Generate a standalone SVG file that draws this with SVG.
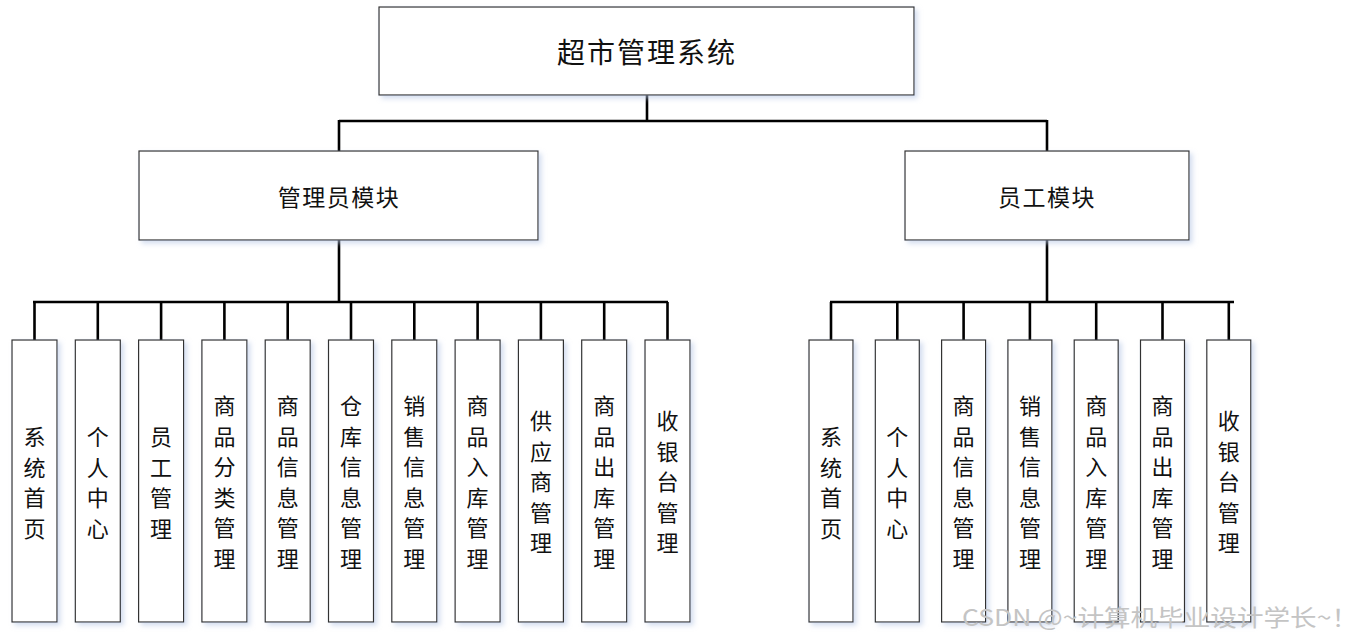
<svg xmlns="http://www.w3.org/2000/svg" width="1367" height="641" viewBox="0 0 1367 641">
<defs>
<filter id="sh" x="-20%" y="-5%" width="140%" height="115%">
<feDropShadow dx="3" dy="3" stdDeviation="2.5" flood-color="#b8c8e6" flood-opacity="0.6"/>
</filter>
</defs>
<style>
.box{fill:#fff;stroke:#333;stroke-width:1.2;filter:url(#sh)}
.conn{fill:none;stroke:#000;stroke-width:2.6}
.t{font-family:"Noto Sans CJK SC","Noto Sans",sans-serif;fill:#111;text-anchor:middle;dominant-baseline:central}
.title{font-size:28px}
.mod{font-size:23px}
.leaf{font-size:22px}
.wm{font-family:"Noto Sans CJK SC","Liberation Sans",sans-serif;font-size:23px;fill:#c4c4c4}
</style>
<rect width="1367" height="641" fill="#fff"/>
<g id="connectors" class="conn">
<path d="M647,95V121M339,121H1047M339,120V151M1047,120V151"/>
<path d="M339,240V302M33,302H668"/>
<path d="M34.5,302V340M97.8,302V340M161.1,302V340M224.4,302V340M287.7,302V340M351,302V340M414.3,302V340M477.6,302V340M540.9,302V340M604.2,302V340M667.5,302V340"/>
<path d="M1047,240V302M830,302H1234"/>
<path d="M831,302V340M897.3,302V340M963.6,302V340M1029.9,302V340M1096.2,302V340M1162.5,302V340M1228.8,302V340"/>
</g>
<g id="root"><rect class="box" x="379" y="7" width="535" height="88"/><text class="t title" x="647" y="51" letter-spacing="2">超市管理系统</text></g>
<g id="admin"><rect class="box" x="139" y="151" width="399" height="89"/><text class="t mod" x="339" y="196" letter-spacing="1.5">管理员模块</text></g>
<g id="staff"><rect class="box" x="905" y="151" width="284" height="89"/><text class="t mod" x="1047" y="196" letter-spacing="1.5">员工模块</text></g>

<g id="a1"><rect class="box" x="12" y="340" width="45" height="282"/><text class="t leaf"><tspan x="34.5" y="435">系</tspan><tspan x="34.5" y="465.5">统</tspan><tspan x="34.5" y="496">首</tspan><tspan x="34.5" y="526.5">页</tspan></text></g>
<g id="a2"><rect class="box" x="75.3" y="340" width="45" height="282"/><text class="t leaf"><tspan x="97.8" y="435">个</tspan><tspan x="97.8" y="465.5">人</tspan><tspan x="97.8" y="496">中</tspan><tspan x="97.8" y="526.5">心</tspan></text></g>
<g id="a3"><rect class="box" x="138.6" y="340" width="45" height="282"/><text class="t leaf"><tspan x="161.1" y="435">员</tspan><tspan x="161.1" y="465.5">工</tspan><tspan x="161.1" y="496">管</tspan><tspan x="161.1" y="526.5">理</tspan></text></g>
<g id="a4"><rect class="box" x="201.9" y="340" width="45" height="282"/><text class="t leaf"><tspan x="224.4" y="404">商</tspan><tspan x="224.4" y="434.5">品</tspan><tspan x="224.4" y="465">分</tspan><tspan x="224.4" y="495.5">类</tspan><tspan x="224.4" y="526">管</tspan><tspan x="224.4" y="556.5">理</tspan></text></g>
<g id="a5"><rect class="box" x="265.2" y="340" width="45" height="282"/><text class="t leaf"><tspan x="287.7" y="404">商</tspan><tspan x="287.7" y="434.5">品</tspan><tspan x="287.7" y="465">信</tspan><tspan x="287.7" y="495.5">息</tspan><tspan x="287.7" y="526">管</tspan><tspan x="287.7" y="556.5">理</tspan></text></g>
<g id="a6"><rect class="box" x="328.5" y="340" width="45" height="282"/><text class="t leaf"><tspan x="351" y="404">仓</tspan><tspan x="351" y="434.5">库</tspan><tspan x="351" y="465">信</tspan><tspan x="351" y="495.5">息</tspan><tspan x="351" y="526">管</tspan><tspan x="351" y="556.5">理</tspan></text></g>
<g id="a7"><rect class="box" x="391.8" y="340" width="45" height="282"/><text class="t leaf"><tspan x="414.3" y="404">销</tspan><tspan x="414.3" y="434.5">售</tspan><tspan x="414.3" y="465">信</tspan><tspan x="414.3" y="495.5">息</tspan><tspan x="414.3" y="526">管</tspan><tspan x="414.3" y="556.5">理</tspan></text></g>
<g id="a8"><rect class="box" x="455.1" y="340" width="45" height="282"/><text class="t leaf"><tspan x="477.6" y="404">商</tspan><tspan x="477.6" y="434.5">品</tspan><tspan x="477.6" y="465">入</tspan><tspan x="477.6" y="495.5">库</tspan><tspan x="477.6" y="526">管</tspan><tspan x="477.6" y="556.5">理</tspan></text></g>
<g id="a9"><rect class="box" x="518.4" y="340" width="45" height="282"/><text class="t leaf"><tspan x="540.9" y="419">供</tspan><tspan x="540.9" y="449.5">应</tspan><tspan x="540.9" y="480">商</tspan><tspan x="540.9" y="510.5">管</tspan><tspan x="540.9" y="541">理</tspan></text></g>
<g id="a10"><rect class="box" x="581.7" y="340" width="45" height="282"/><text class="t leaf"><tspan x="604.2" y="404">商</tspan><tspan x="604.2" y="434.5">品</tspan><tspan x="604.2" y="465">出</tspan><tspan x="604.2" y="495.5">库</tspan><tspan x="604.2" y="526">管</tspan><tspan x="604.2" y="556.5">理</tspan></text></g>
<g id="a11"><rect class="box" x="645" y="340" width="45" height="282"/><text class="t leaf"><tspan x="667.5" y="419">收</tspan><tspan x="667.5" y="449.5">银</tspan><tspan x="667.5" y="480">台</tspan><tspan x="667.5" y="510.5">管</tspan><tspan x="667.5" y="541">理</tspan></text></g>

<g id="s1"><rect class="box" x="809" y="340" width="44" height="282"/><text class="t leaf"><tspan x="831" y="435">系</tspan><tspan x="831" y="465.5">统</tspan><tspan x="831" y="496">首</tspan><tspan x="831" y="526.5">页</tspan></text></g>
<g id="s2"><rect class="box" x="875.3" y="340" width="44" height="282"/><text class="t leaf"><tspan x="897.3" y="435">个</tspan><tspan x="897.3" y="465.5">人</tspan><tspan x="897.3" y="496">中</tspan><tspan x="897.3" y="526.5">心</tspan></text></g>
<g id="s3"><rect class="box" x="941.6" y="340" width="44" height="282"/><text class="t leaf"><tspan x="963.6" y="404">商</tspan><tspan x="963.6" y="434.5">品</tspan><tspan x="963.6" y="465">信</tspan><tspan x="963.6" y="495.5">息</tspan><tspan x="963.6" y="526">管</tspan><tspan x="963.6" y="556.5">理</tspan></text></g>
<g id="s4"><rect class="box" x="1007.9" y="340" width="44" height="282"/><text class="t leaf"><tspan x="1029.9" y="404">销</tspan><tspan x="1029.9" y="434.5">售</tspan><tspan x="1029.9" y="465">信</tspan><tspan x="1029.9" y="495.5">息</tspan><tspan x="1029.9" y="526">管</tspan><tspan x="1029.9" y="556.5">理</tspan></text></g>
<g id="s5"><rect class="box" x="1074.2" y="340" width="44" height="282"/><text class="t leaf"><tspan x="1096.2" y="404">商</tspan><tspan x="1096.2" y="434.5">品</tspan><tspan x="1096.2" y="465">入</tspan><tspan x="1096.2" y="495.5">库</tspan><tspan x="1096.2" y="526">管</tspan><tspan x="1096.2" y="556.5">理</tspan></text></g>
<g id="s6"><rect class="box" x="1140.5" y="340" width="44" height="282"/><text class="t leaf"><tspan x="1162.5" y="404">商</tspan><tspan x="1162.5" y="434.5">品</tspan><tspan x="1162.5" y="465">出</tspan><tspan x="1162.5" y="495.5">库</tspan><tspan x="1162.5" y="526">管</tspan><tspan x="1162.5" y="556.5">理</tspan></text></g>
<g id="s7"><rect class="box" x="1206.8" y="340" width="44" height="282"/><text class="t leaf"><tspan x="1228.8" y="419">收</tspan><tspan x="1228.8" y="449.5">银</tspan><tspan x="1228.8" y="480">台</tspan><tspan x="1228.8" y="510.5">管</tspan><tspan x="1228.8" y="541">理</tspan></text></g>

<text class="wm" x="962" y="626" textLength="396" lengthAdjust="spacingAndGlyphs">CSDN @~计算机毕业设计学长~！</text>
</svg>
